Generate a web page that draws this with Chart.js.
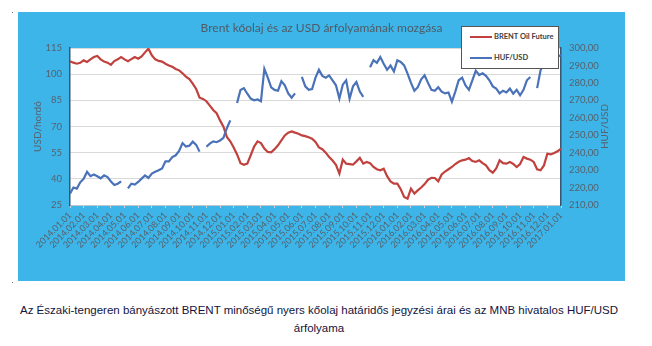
<!DOCTYPE html>
<html>
<head>
<meta charset="utf-8">
<title>Brent kőolaj és az USD árfolyamának mozgása</title>
<script src="https://cdn.jsdelivr.net/npm/chart.js@4.4.1/dist/chart.umd.min.js"></script>
<style>
    html, body { margin: 0; padding: 0; background: #ffffff; }
    body { width: 652px; height: 346px; position: relative; overflow: hidden; }
    #panel { position: absolute; left: 18px; top: 12px; width: 607px; height: 269px; background: #3db5e8; }
    #legend { position: absolute; left: 461px; top: 26px; width: 96px; height: 41px; background: #ffffff; border: 1px solid #555555; }
    .swatch { position: absolute; left: 8px; width: 22px; height: 2px; }
    .label { position: absolute; left: 32px; font: bold 7.5px Lato, sans-serif; color: #404040; line-height: 10px; white-space: nowrap; }
    #caption { position: absolute; left: 0; top: 302px; width: 638px; text-align: center; font: 11.5px "Liberation Sans", Arial, sans-serif; line-height: 17.6px; color: #14143c; }
    .dot { position: absolute; width: 1px; height: 1px; background: #777777; }
</style>
</head>
<body>
<div id="panel"><canvas id="brentChart" width="607" height="269"></canvas></div>
<div id="legend">
    <div class="swatch" style="top: 9px; background: #c0413e;"></div>
    <div class="label" style="top: 5px;">BRENT Oil Future</div>
    <div class="swatch" style="top: 30px; background: #4a72b8;"></div>
    <div class="label" style="top: 26px;">HUF/USD</div>
</div>
<div class="dot" style="left: 12px; top: 12px;"></div>
<div class="dot" style="left: 12px; top: 282px;"></div>
<div id="caption">Az Északi-tengeren bányászott BRENT minőségű nyers kőolaj határidős jegyzési árai és az MNB hivatalos HUF/USD<br>árfolyama</div>

<script>
// Monthly tick labels on the x axis
const months = [
    '2014.01.01', '2014.02.01', '2014.03.01', '2014.04.01', '2014.05.01', '2014.06.01',
    '2014.07.01', '2014.08.01', '2014.09.01', '2014.10.01', '2014.11.01', '2014.12.01',
    '2015.01.01', '2015.02.01', '2015.03.01', '2015.04.01', '2015.05.01', '2015.06.01',
    '2015.07.01', '2015.08.01', '2015.09.01', '2015.10.01', '2015.11.01', '2015.12.01',
    '2016.01.01', '2016.02.01', '2016.03.01', '2016.04.01', '2016.05.01', '2016.06.01',
    '2016.07.01', '2016.08.01', '2016.09.01', '2016.10.01', '2016.11.01', '2016.12.01',
    '2017.01.01'
];

// Values read roughly every quarter month (USD/barrel)
const brent = [
    107.4, 106.6, 106.0, 106.5, 107.9, 107.0, 108.5, 109.8, 110.4, 108.5, 107.2, 106.6,
    105.4, 107.5, 108.5, 109.8, 108.5, 107.4, 108.6, 109.8, 108.9, 110.2, 112.5, 114.6,
    110.8, 108.5, 107.6, 107.2, 106.0, 105.0, 104.2, 103.0, 102.2, 100.5, 98.6, 97.2,
    94.6, 91.5, 86.5, 85.8, 84.5, 82.0, 79.5, 77.6, 73.5, 69.9, 64.0, 61.5,
    58.0, 54.0, 49.0, 48.1, 48.7, 53.5, 58.5, 61.5, 60.5, 57.3, 55.4, 55.2,
    57.0, 59.2, 62.0, 64.9, 66.5, 67.2, 66.5, 65.9, 64.9, 64.5, 63.8, 63.0,
    61.1, 58.0, 57.0, 55.0, 52.5, 50.5, 48.0, 43.0, 51.0, 48.7, 48.4, 48.1,
    50.0, 52.0, 48.7, 49.7, 49.0, 46.8, 45.5, 44.9, 45.8, 41.5, 38.5, 37.2,
    37.2, 34.0, 29.6, 28.6, 34.4, 31.5, 33.4, 35.0, 37.0, 39.5, 40.6, 40.5,
    38.5, 42.5, 44.2, 45.5, 46.8, 48.5, 49.8, 50.6, 51.0, 51.9, 50.2, 49.7,
    50.6, 49.0, 47.7, 45.0, 43.5, 46.0, 50.6, 49.0, 48.7, 49.7, 48.5, 46.8,
    48.5, 52.5, 51.6, 51.0, 49.7, 45.5, 44.9, 47.7, 54.4, 54.0, 54.8, 55.8,
    57.3
];

// HUF per USD, same sampling (null = missing days)
const hufUsd = [
    216.5, 220.0, 219.4, 223.0, 225.0, 229.0, 226.5, 227.5, 226.5, 225.3, 227.0, 226.0,
    223.5, 221.5, 222.2, 223.6, null, 219.5, 222.2, 221.7, 223.2, 225.1, 227.0, 225.5,
    228.0, 229.0, 229.9, 231.0, 235.0, 235.0, 237.5, 238.5, 241.0, 245.5, 243.5, 244.0,
    246.3, 244.5, 240.6, null, 243.4, 245.2, 246.5, 246.0, 247.0, 248.5, 254.0, 258.5,
    null, 268.5, 275.9, 277.0, 273.8, 271.0, 270.0, 270.5, 269.5, 288.0, 283.0, 277.5,
    276.0, 275.5, 281.0, 278.6, 274.0, 271.5, 274.0, null, 283.5, 278.0, 276.0, 276.5,
    283.0, 287.5, 284.0, 283.0, 284.3, 281.5, 278.6, 271.0, 279.0, 281.5, 271.0, 278.0,
    280.5, 275.0, 272.0, null, 289.0, 293.0, 291.5, 294.8, 291.0, 287.5, 290.0, 286.5,
    293.0, 292.0, 290.0, 285.3, 280.0, 275.5, 277.5, 282.0, 284.3, 280.0, 276.0, 275.5,
    277.5, 275.0, 274.0, 274.5, 269.2, 275.0, 281.5, 283.0, 278.5, 276.0, 281.5, 287.0,
    284.5, 285.5, 284.0, 281.5, 278.0, 276.7, 274.0, 275.5, 274.5, 276.7, 273.8, 276.0,
    272.9, 276.0, 281.5, 283.4, null, 277.0, 287.2, 291.0, 293.0, 294.0, 292.5, 295.0,
    296.0
];

const tickColor = '#56626e';
const axisFont = { family: 'Lato', size: 9.5 };

// White plot area on the blue panel
const plotBackground = {
    id: 'plotBackground',
    beforeDraw(chart) {
        const { ctx, chartArea } = chart;
        ctx.save();
        ctx.fillStyle = '#ffffff';
        ctx.fillRect(chartArea.left, chartArea.top, chartArea.width, chartArea.height);
        ctx.restore();
    }
};

// Right axis title reads bottom to top, like the left one
const rightTitle = {
    id: 'rightTitle',
    afterDraw(chart) {
        const { ctx, chartArea } = chart;
        const scale = chart.scales.y1;
        ctx.save();
        ctx.translate(scale.right - 20, (chartArea.top + chartArea.bottom) / 2);
        ctx.rotate(-Math.PI / 2);
        ctx.fillStyle = tickColor;
        ctx.font = '10px Lato';
        ctx.textAlign = 'center';
        ctx.textBaseline = 'middle';
        ctx.fillText('HUF/USD', 0, 0);
        ctx.restore();
    }
};

const ctx = document.getElementById('brentChart').getContext('2d');

new Chart(ctx, {
    type: 'line',
    data: {
        datasets: [{
            label: 'BRENT Oil Future',
            data: brent.map((v, i) => ({ x: i, y: v })),
            borderColor: '#c0413e',
            borderWidth: 2.2,
            pointRadius: 0,
            yAxisID: 'y',
            order: 2
        }, {
            label: 'HUF/USD',
            data: hufUsd.map((v, i) => ({ x: i, y: v })),
            borderColor: '#4a72b8',
            borderWidth: 2.2,
            pointRadius: 0,
            spanGaps: false,
            yAxisID: 'y1',
            order: 1
        }]
    },
    options: {
        responsive: false,
        animation: false,
        layout: { padding: { top: 0, left: 0, right: 0, bottom: 0 } },
        plugins: {
            legend: { display: false },
            tooltip: { enabled: false },
            title: {
                display: true,
                text: 'Brent kőolaj és az USD árfolyamának mozgása',
                color: '#4f5b66',
                font: { family: 'Lato', size: 12, weight: 'normal' },
                padding: { top: 9, bottom: 12.6 }
            }
        },
        scales: {
            x: {
                type: 'linear',
                min: 0,
                max: brent.length - 1,
                grid: { drawOnChartArea: false, drawTicks: true, tickLength: 3, color: '#c9d6e0' },
                border: { color: '#bfc8d0' },
                ticks: {
                    stepSize: 4,
                    autoSkip: false,
                    minRotation: 45,
                    maxRotation: 45,
                    padding: 2,
                    color: tickColor,
                    font: { family: 'Lato', size: 9 },
                    callback: (v) => months[v / 4]
                },
                afterFit: (scale) => { scale.height = 76; }
            },
            y: {
                position: 'left',
                min: 25,
                max: 115,
                grid: { color: '#d9d9d9', drawTicks: false },
                border: { color: '#3a5570', width: 1.5 },
                ticks: { stepSize: 15, padding: 8, color: tickColor, font: axisFont },
                title: {
                    display: true,
                    text: 'USD/hordó',
                    color: tickColor,
                    font: { family: 'Lato', size: 10 },
                    padding: { top: 14, bottom: 0 }
                },
                afterFit: (scale) => { scale.width = 52; }
            },
            y1: {
                position: 'right',
                min: 210,
                max: 300,
                grid: { drawOnChartArea: false, drawTicks: false },
                border: { color: '#3a5570', width: 1.5 },
                ticks: {
                    stepSize: 10,
                    padding: 8,
                    color: tickColor,
                    font: axisFont,
                    callback: (v) => v.toFixed(2).replace('.', ',')
                },
                afterFit: (scale) => { scale.width = 64; }
            }
        }
    },
    plugins: [plotBackground, rightTitle]
});
</script>
</body>
</html>
